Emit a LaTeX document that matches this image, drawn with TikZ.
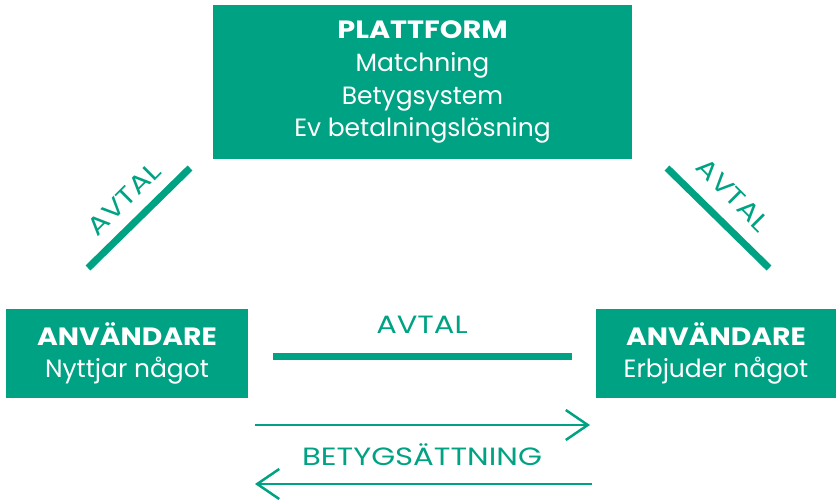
\documentclass[tikz,border=0pt]{standalone}
\usepackage{fontspec}
\setmainfont{Poppins}
\usepackage{xcolor}
\usepackage{graphicx}
\usepackage{tikz}
\usetikzlibrary{arrows.meta}

\definecolor{gron}{RGB}{0,162,132}
\newcommand{\bred}[2]{\scalebox{#1}[1]{#2}}

\begin{document}
\begin{tikzpicture}[x=1pt, y=-1pt, every node/.style={font=\fontsize{25}{32.5}\selectfont, align=center}, ruta/.style={fill=gron, text=white, inner sep=0pt}, avtal/.style={line width=7pt, draw=gron}, pil/.style={line width=2.5pt, draw=gron, -{Straight Barb[length=22pt, width=30pt, line width=2.5pt]}}, etikett/.style={text=gron}]
		\useasboundingbox (0,0) rectangle (838,499);
		% rutor
		\node[ruta, minimum width=419pt, minimum height=154pt](plattform) at (422.5,82){\bred{1.15}{\textbf{PLATTFORM}}\\[0.5pt]Matchning\\Betygsystem\\Ev betalningslösning};
		\node[ruta, minimum width=242pt, minimum height=89pt](nyttjar) at (127,353.5){\bred{1.13}{\textbf{ANVÄNDARE}}\\Nyttjar något};
		\node[ruta, minimum width=240pt, minimum height=89pt](erbjuder) at (716,353.5){\bred{1.13}{\textbf{ANVÄNDARE}}\\Erbjuder något};
		% avtal
		\coordinate (v1) at (88,268);
		\coordinate (v2) at (190,168);
		\coordinate (h1) at (667,168);
		\coordinate (h2) at (769,268);
		\coordinate (m1) at (273,356);
		\coordinate (m2) at (572,356);
		\draw[avtal] (v1) -- (v2);
		\draw[avtal] (h1) -- (h2);
		\draw[avtal] (m1) -- (m2);
		\node[etikett, rotate=45](avtalv) at (124,199){\bred{1.22}{AVTAL}};
		\node[etikett, rotate=-45](avtalh) at (733,195){\bred{1.22}{AVTAL}};
		\node[etikett](avtalm) at (422,325){\bred{1.22}{AVTAL}};
		% betyg
		\coordinate (p1) at (255,425);
		\coordinate (p2) at (590,425);
		\coordinate (q1) at (592,484);
		\coordinate (q2) at (255,484);
		\draw[pil] (p1) -- (p2);
		\draw[pil] (q1) -- (q2);
		\node[etikett](betyg) at (422,455){\bred{1.23}{BETYGSÄTTNING}};
	\end{tikzpicture}
\end{document}
